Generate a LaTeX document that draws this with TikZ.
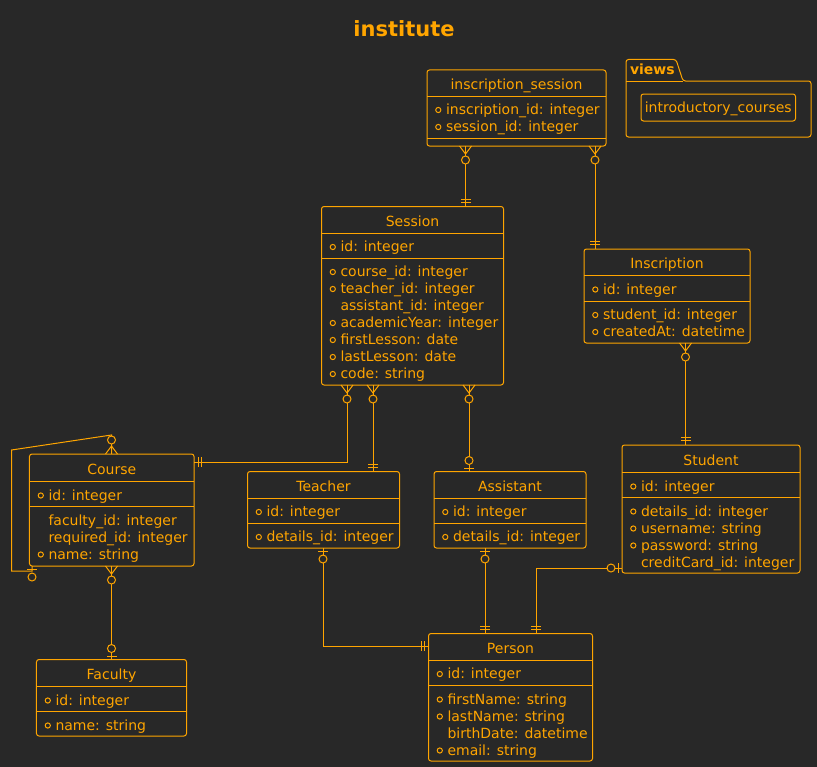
\documentclass[tikz,border=0pt]{standalone}
\usepackage{fontspec}
\setmainfont{DejaVu Sans}

\definecolor{bgdark}{HTML}{282828}
\definecolor{amber}{HTML}{FFA500}

\tikzset{
    entity/.style={draw, rounded corners=2.5bp, inner sep=0pt, outer sep=0pt},
    etitle/.style={anchor=base, inner sep=0pt},
    field/.style={anchor=base west, inner sep=0pt},
    rel/.style={line width=1bp},
    manyzero/.pic={
        \draw (-6,0) -- (0,8) -- (6,0);
        \draw[fill=bgdark] (0,14) circle (4bp);
    },
    onlyone/.pic={
        \draw (-5,4.5) -- (5,4.5) (-5,7.5) -- (5,7.5);
    },
    zeroone/.pic={
        \draw (-5,3.5) -- (5,3.5);
        \draw[fill=bgdark] (0,11) circle (4bp);
    }
}

\begin{document}
\begin{tikzpicture}[x=1bp, y=-1bp, color=amber, line width=1bp, font=\fontsize{14bp}{17bp}\selectfont]
    \fill[bgdark] (0,0) rectangle (817,767);
    \useasboundingbox (0,0) rectangle (817,767);

    \node[anchor=base, inner sep=0pt, font=\fontsize{21bp}{25bp}\selectfont\bfseries] (title) at (404,36.5) {institute};

    % The views package
    \draw[rounded corners=2.5bp] (626,137) -- (626,59.5) -- (676,59.5) -- (683,81) -- (811,81) -- (811,137) -- cycle;
    \draw (626,81) -- (683,81);
    \node[anchor=base west, inner sep=0pt, font=\fontsize{14bp}{17bp}\selectfont\bfseries] (views) at (629.5,75) {views};
    \node[entity, minimum width=154.5bp, minimum height=27bp, text height=10.6bp, text depth=0bp] (intro) at (718.25,107.5) {introductory\_courses};

    % inscription_session
    \node[entity, minimum width=179bp, minimum height=76bp] (isess) at (516.5,108) {};
    \node[etitle] (isessT) at (isess.north |- 0,89) {inscription\_session};
    \draw (isess.west |- 0,96) -- (isess.east |- 0,96) (isess.west |- 0,138) -- (isess.east |- 0,138);
    \foreach \f [count=\i from 0] in {inscription\_id: integer, session\_id: integer} {
        \node[field] (isessF\i) at (445.5,{114.5+17*\i}) {\f};
        \draw (438.3,{110+17*\i}) circle (2.6bp);
    }

    % Session
    \node[entity, minimum width=182bp, minimum height=178.5bp] (sess) at (412.5,295.75) {};
    \node[etitle] (sessT) at (sess.north |- 0,226) {Session};
    \draw (sess.west |- 0,233) -- (sess.east |- 0,233) (sess.west |- 0,258) -- (sess.east |- 0,258);
    \node[field] (sessK) at (340,251.5) {id: integer};
    \draw (332.8,247) circle (2.6bp);
    \foreach \f/\m [count=\i from 0] in {course\_id: integer/1, teacher\_id: integer/1, assistant\_id: integer/0, academicYear: integer/1, firstLesson: date/1, lastLesson: date/1, code: string/1} {
        \node[field] (sessF\i) at (340,{276.5+17*\i}) {\f};
        \ifnum\m=1 \draw (332.8,{272+17*\i}) circle (2.6bp); \fi
    }

    % Inscription
    \node[entity, minimum width=166bp, minimum height=94bp] (insc) at (667,296) {};
    \node[etitle] (inscT) at (insc.north |- 0,268.5) {Inscription};
    \draw (insc.west |- 0,275.5) -- (insc.east |- 0,275.5) (insc.west |- 0,301) -- (insc.east |- 0,301);
    \node[field] (inscK) at (602.5,294) {id: integer};
    \draw (595.3,289.5) circle (2.6bp);
    \foreach \f [count=\i from 0] in {student\_id: integer, createdAt: datetime} {
        \node[field] (inscF\i) at (602.5,{319.5+17*\i}) {\f};
        \draw (595.3,{315+17*\i}) circle (2.6bp);
    }

    % Student
    \node[entity, minimum width=178bp, minimum height=128bp] (stud) at (711,509) {};
    \node[etitle] (studT) at (stud.north |- 0,465.5) {Student};
    \draw (stud.west |- 0,472.5) -- (stud.east |- 0,472.5) (stud.west |- 0,497.5) -- (stud.east |- 0,497.5);
    \node[field] (studK) at (640.5,491) {id: integer};
    \draw (633.3,486.5) circle (2.6bp);
    \foreach \f/\m [count=\i from 0] in {details\_id: integer/1, username: string/1, password: string/1, creditCard\_id: integer/0} {
        \node[field] (studF\i) at (640.5,{516+17*\i}) {\f};
        \ifnum\m=1 \draw (633.3,{511.5+17*\i}) circle (2.6bp); \fi
    }

    % Assistant
    \node[entity, minimum width=152bp, minimum height=76.5bp] (asst) at (510,509.75) {};
    \node[etitle] (asstT) at (asst.north |- 0,491) {Assistant};
    \draw (asst.west |- 0,498) -- (asst.east |- 0,498) (asst.west |- 0,523) -- (asst.east |- 0,523);
    \node[field] (asstK) at (452.5,516.5) {id: integer};
    \draw (445.3,512) circle (2.6bp);
    \node[field] (asstF) at (452.5,541.5) {details\_id: integer};
    \draw (445.3,537) circle (2.6bp);

    % Teacher
    \node[entity, minimum width=152bp, minimum height=76.5bp] (teach) at (323.5,509.75) {};
    \node[etitle] (teachT) at (teach.north |- 0,491) {Teacher};
    \draw (teach.west |- 0,498) -- (teach.east |- 0,498) (teach.west |- 0,523) -- (teach.east |- 0,523);
    \node[field] (teachK) at (266,516.5) {id: integer};
    \draw (258.8,512) circle (2.6bp);
    \node[field] (teachF) at (266,541.5) {details\_id: integer};
    \draw (258.8,537) circle (2.6bp);

    % Course
    \node[entity, minimum width=164.5bp, minimum height=112bp] (course) at (111.75,510) {};
    \node[etitle] (courseT) at (course.north |- 0,474.5) {Course};
    \draw (course.west |- 0,481.5) -- (course.east |- 0,481.5) (course.west |- 0,506.5) -- (course.east |- 0,506.5);
    \node[field] (courseK) at (48,500) {id: integer};
    \draw (40.8,495.5) circle (2.6bp);
    \foreach \f/\m [count=\i from 0] in {faculty\_id: integer/0, required\_id: integer/0, name: string/1} {
        \node[field] (courseF\i) at (48,{525+17*\i}) {\f};
        \ifnum\m=1 \draw (40.8,{520.5+17*\i}) circle (2.6bp); \fi
    }

    % Faculty
    \node[entity, minimum width=150bp, minimum height=76.5bp] (fac) at (111.5,697.75) {};
    \node[etitle] (facT) at (fac.north |- 0,679.5) {Faculty};
    \draw (fac.west |- 0,686.5) -- (fac.east |- 0,686.5) (fac.west |- 0,711.5) -- (fac.east |- 0,711.5);
    \node[field] (facK) at (55,705) {id: integer};
    \draw (47.8,700.5) circle (2.6bp);
    \node[field] (facF) at (55,730) {name: string};
    \draw (47.8,725.5) circle (2.6bp);

    % Person
    \node[entity, minimum width=164bp, minimum height=127.5bp] (pers) at (510.5,697.25) {};
    \node[etitle] (persT) at (pers.north |- 0,653) {Person};
    \draw (pers.west |- 0,660) -- (pers.east |- 0,660) (pers.west |- 0,685.5) -- (pers.east |- 0,685.5);
    \node[field] (persK) at (447,678.5) {id: integer};
    \draw (439.8,674) circle (2.6bp);
    \foreach \f/\m [count=\i from 0] in {firstName: string/1, lastName: string/1, birthDate: datetime/0, email: string/1} {
        \node[field] (persF\i) at (447,{704+17*\i}) {\f};
        \ifnum\m=1 \draw (439.8,{699.5+17*\i}) circle (2.6bp); \fi
    }

    % Relations
    \draw[rel] (isess.south -| 465.5,0) -- (sess.north -| 465.5,0);
    \draw[rel] (isess.south -| 595,0) -- (insc.north -| 595,0);
    \draw[rel] (insc.south -| 685.5,0) -- (stud.north -| 685.5,0);
    \draw[rel] (sess.south -| 347,0) |- (course.east |- 0,462);
    \draw[rel] (sess.south -| 373,0) -- (teach.north -| 373,0);
    \draw[rel] (sess.south -| 469,0) -- (asst.north -| 469,0);
    \draw[rel] (course.north -| 111.5,0) -- (111.5,435) -- (11.5,450) -- (11.5,571) -- (32,571) -- (course.south -| 32,0);
    \draw[rel] (course.south -| 111.5,0) -- (fac.north -| 111.5,0);
    \draw[rel] (teach.south -| 323,0) |- (pers.west |- 0,646);
    \draw[rel] (asst.south -| 485,0) -- (pers.north -| 485,0);
    \draw[rel] (stud.west |- 0,568) -| (pers.north -| 536,0);

    % Cardinality ends
    \path (isess.south -| 465.5,0) pic {manyzero} (sess.north -| 465.5,0) pic[rotate=180] {onlyone};
    \path (isess.south -| 595,0) pic {manyzero} (insc.north -| 595,0) pic[rotate=180] {onlyone};
    \path (insc.south -| 685.5,0) pic {manyzero} (stud.north -| 685.5,0) pic[rotate=180] {onlyone};
    \path (sess.south -| 347,0) pic {manyzero} (course.east |- 0,462) pic[rotate=90] {onlyone};
    \path (sess.south -| 373,0) pic {manyzero} (teach.north -| 373,0) pic[rotate=180] {onlyone};
    \path (sess.south -| 469,0) pic {manyzero} (asst.north -| 469,0) pic[rotate=180] {zeroone};
    \path (course.north -| 111.5,0) pic[rotate=180] {manyzero} (course.south -| 32,0) pic {zeroone};
    \path (course.south -| 111.5,0) pic {manyzero} (fac.north -| 111.5,0) pic[rotate=180] {zeroone};
    \path (teach.south -| 323,0) pic {zeroone} (pers.west |- 0,646) pic[rotate=-90] {onlyone};
    \path (asst.south -| 485,0) pic {zeroone} (pers.north -| 485,0) pic[rotate=180] {onlyone};
    \path (stud.west |- 0,568) pic[rotate=-90] {zeroone} (pers.north -| 536,0) pic[rotate=180] {onlyone};
\end{tikzpicture}
\end{document}
